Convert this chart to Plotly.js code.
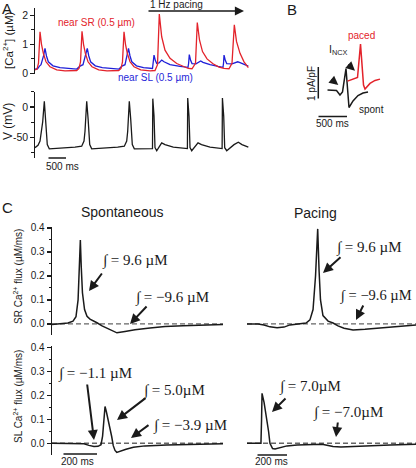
<!DOCTYPE html>
<html><head><meta charset="utf-8">
<script src="https://cdn.plot.ly/plotly-3.0.1.min.js"></script>
<style>html,body{margin:0;padding:0;background:#fff;}#chart{width:416px;height:468px;}</style>
</head><body><div id="chart"></div>
<script>
// ---------- Panel A : local Ca and membrane potential (time in ms) ----------
const caSRTime = [0,53,92,132,171,218,289,395,571,789,1097,1157,1197,1236,1276,1323,1394,1499,1675,1894,2201,2262,2301,2341,2380,2427,2499,2604,2780,3025,3156,3222,3269,3332,3419,3551,3727,3900,4032,4129,4221,4268,4326,4405,4524,4681,4839,4971,5102,5181,5242,5299,5392,5497,5610];
const caNearSR = [0.12,0.15,0.35,1.43,1.0,0.7,0.4,0.23,0.12,0.09,0.1,0.17,0.4,1.45,1.0,0.7,0.4,0.23,0.12,0.09,0.1,0.17,0.4,1.43,1.0,0.7,0.4,0.23,0.12,0.09,0.1,0.3,2.04,1.26,0.8,0.52,0.34,0.23,0.17,0.16,0.35,1.75,1.15,0.75,0.5,0.33,0.22,0.17,0.16,0.35,1.67,1.1,0.69,0.4,0.2];
const caSLTime = [0,66,118,158,224,263,302,350,473,658,1097,1184,1262,1328,1375,1415,1462,1586,1770,2209,2288,2367,2420,2459,2499,2546,2669,2854,3090,3109,3130,3164,3201,3261,3332,3393,3551,3814,4024,4040,4058,4092,4129,4234,4358,4418,4603,4813,4944,4958,4971,5005,5042,5181,5331,5392,5497,5610];
const caNearSL = [0.15,0.16,0.25,0.3,0.6,0.86,0.6,0.4,0.26,0.2,0.15,0.25,0.3,0.6,0.86,0.6,0.4,0.26,0.2,0.15,0.25,0.3,0.6,0.86,0.6,0.4,0.26,0.2,0.17,0.35,0.63,0.45,0.34,0.36,0.46,0.4,0.3,0.24,0.21,0.35,0.65,0.45,0.34,0.33,0.43,0.38,0.3,0.24,0.21,0.35,0.63,0.45,0.34,0.33,0.4,0.37,0.3,0.25];
const vTime = [0,79,132,203,245,281,323,376,744,1052,1228,1289,1315,1360,1397,1439,1491,1859,2175,2349,2412,2438,2480,2517,2559,2612,2972,3090,3098,3130,3156,3201,3261,3332,3419,3637,4008,4016,4050,4077,4121,4195,4287,4379,4603,4921,4929,4963,4989,5042,5129,5234,5347,5444,5610];
const vMembrane = [-67,-63,-56,-24,9.4,-20,-62,-69,-68,-66,-64.5,-56,-40,9.4,-20,-62,-69,-68,-66,-64.5,-56,-40,9.4,-20,-62,-69,-68.5,-68.5,13.7,-15,-67,-72,-66,-59,-62,-66,-68.5,14.8,-15,-67,-72,-66,-59,-62,-66,-68.5,14.8,-15,-67,-72,-67,-62,-58,-62,-66];
const caTickVals = [0,1,2];
const caTickText = ['0','1','2'];
const caMinorVals = [0.5,1.5];
const vTickVals = [0,-50];
const vTickText = ['0','-50'];
const vMinorVals = [25,-25,-75];

// ---------- Panel B : I_NCX (ms, pA/pF) ----------
const ncxSpontTime = [0,150,208,250,308,358,425,508,592,675];
const ncxSpont = [0,-0.015,-0.15,-0.06,0.65,-0.53,-0.33,-0.17,-0.09,-0.06];
const ncxPacedTime = [333,500,550,600,625,708,792,875];
const ncxPaced = [0.27,0.38,1.39,0.15,0.03,0.2,0.29,0.33];

// ---------- Panel C : Ca fluxes (ms, uM/ms) ----------
const spontSRTime = [0,46,91,120,137,149,156,162,167,174,186,200,217,240,257,286,320,349,371,417,474,560,646,749,846,977];
const spontSRFlux = [-0.002,0,0.004,0.012,0.03,0.1,0.22,0.35,0.24,0.13,0.06,0.032,0.02,0.012,0.005,-0.008,-0.02,-0.032,-0.037,-0.031,-0.024,-0.017,-0.011,-0.007,-0.004,-0.002];
const spontSLTime = [0,149,183,211,240,263,280,289,297,303,311,322,331,341,350,360,370,389,423,465,531,655,789,941,977];
const spontSLFlux = [0,0,-0.002,-0.009,-0.014,-0.013,-0.006,0.03,0.12,0.153,0.13,0.097,0.06,0.028,-0.01,-0.03,-0.038,-0.033,-0.025,-0.017,-0.011,-0.007,-0.004,-0.003,-0.002];
const pacedSRTime = [0,71,110,148,194,239,277,342,381,406,426,442,456,465,474,490,523,555,587,626,684,761,839,923,1013,1090];
const pacedSRFlux = [0,0,-0.004,-0.012,-0.016,-0.013,-0.004,0,0.004,0.017,0.06,0.2,0.396,0.22,0.1,0.035,0.012,0.004,-0.008,-0.018,-0.025,-0.022,-0.018,-0.012,-0.007,-0.004];
const pacedSLTime = [0,71,90,94,97,110,126,139,148,165,181,213,258,323,406,484,516,555,606,697,794,923,1090];
const pacedSLFlux = [0,0,0,0.1,0.208,0.17,0.11,0.05,0,-0.022,-0.024,-0.018,-0.011,-0.007,-0.004,-0.004,-0.008,-0.014,-0.016,-0.013,-0.01,-0.007,-0.004];
const fluxTickVals = [0,0.1,0.2,0.3,0.4];
const fluxTickText = ['0.0','0.1','0.2','0.3','0.4'];
const fluxMinorVals = [0.05,0.15,0.25,0.35];

// ---------- helpers (pixel -> paper) ----------
const W = 416, H = 468;
const X = p => p / W;
const Y = p => 1 - p / H;
const RED = '#e3232b', BLUE = '#1f1fd8', INK = '#1a1a1a';
const SANS = 'Liberation Sans, Arial, sans-serif';
const SERIF = 'Liberation Serif, Times New Roman, serif';
const caRange = [-0.02, 2.25], vRange = [-83.5, 25.5];
const srRange = [-0.046, 0.406], slRange = [-0.049, 0.405];

const dashed = (t, xa, ya) => ({x: [t[0], t[t.length-1]], y: [0, 0], xaxis: xa, yaxis: ya, mode: 'lines', line: {color: '#666', width: 1.3, dash: '5px,3px'}});
const traces = [
  {x: caSLTime, y: caNearSL, xaxis: 'x', yaxis: 'y', mode: 'lines', line: {color: BLUE, width: 1.3}},
  {x: caSRTime, y: caNearSR, xaxis: 'x', yaxis: 'y', mode: 'lines', line: {color: RED, width: 1.3}},
  {x: vTime, y: vMembrane, xaxis: 'x2', yaxis: 'y2', mode: 'lines', line: {color: INK, width: 1.3}},
  {x: ncxSpontTime, y: ncxSpont, xaxis: 'x3', yaxis: 'y3', mode: 'lines', line: {color: INK, width: 1.5}},
  {x: ncxPacedTime, y: ncxPaced, xaxis: 'x3', yaxis: 'y3', mode: 'lines', line: {color: RED, width: 1.5}},
  dashed(spontSRTime, 'x4', 'y4'),
  {x: spontSRTime, y: spontSRFlux, xaxis: 'x4', yaxis: 'y4', mode: 'lines', line: {color: INK, width: 1.5}},
  dashed(spontSLTime, 'x4', 'y5'),
  {x: spontSLTime, y: spontSLFlux, xaxis: 'x4', yaxis: 'y5', mode: 'lines', line: {color: INK, width: 1.5}},
  dashed(pacedSRTime, 'x6', 'y6'),
  {x: pacedSRTime, y: pacedSRFlux, xaxis: 'x6', yaxis: 'y6', mode: 'lines', line: {color: INK, width: 1.5}},
  dashed(pacedSLTime, 'x6', 'y7'),
  {x: pacedSLTime, y: pacedSLFlux, xaxis: 'x6', yaxis: 'y7', mode: 'lines', line: {color: INK, width: 1.5}},
  // empty traces that carry the minor-tick axes
  {x: [], y: [], xaxis: 'x', yaxis: 'y8', mode: 'lines'},
  {x: [], y: [], xaxis: 'x2', yaxis: 'y9', mode: 'lines'},
  {x: [], y: [], xaxis: 'x4', yaxis: 'y10', mode: 'lines'},
  {x: [], y: [], xaxis: 'x4', yaxis: 'y11', mode: 'lines'}
];

const hiddenX = (dom, rng, anchor) => ({domain: dom, range: rng, visible: false, anchor: anchor});
function yAx(extra) {
  return Object.assign({showline: true, linecolor: INK, linewidth: 1.3, ticks: 'outside', ticklen: 4, tickwidth: 1.2, tickcolor: INK,
    showticklabels: true, tickmode: 'array', showgrid: false, zeroline: false, automargin: false,
    tickfont: {family: SANS, size: 10, color: INK}}, extra);
}
const minorAx = (over, anchor, rng, vals, len) => ({overlaying: over, anchor: anchor, side: 'left', range: rng, tickmode: 'array', tickvals: vals,
  ticks: 'outside', ticklen: len, tickwidth: 1, tickcolor: INK, showticklabels: false, showline: false, showgrid: false, zeroline: false, automargin: false});

const layout = {
  width: W, height: H, margin: {l: 0, r: 0, t: 0, b: 0}, showlegend: false,
  paper_bgcolor: '#fff', plot_bgcolor: 'rgba(0,0,0,0)',
  xaxis: hiddenX([X(35), X(249)], [0, 5628], 'y'),
  yaxis: yAx({domain: [Y(74), Y(8)], range: caRange, anchor: 'x', tickvals: caTickVals, ticktext: caTickText, ticklen: 3.5,
    tickfont: {family: SANS, size: 10.5, color: INK}}),
  xaxis2: hiddenX([X(35), X(249)], [0, 5628], 'y2'),
  yaxis2: yAx({domain: [Y(157.7), Y(91.5)], range: vRange, anchor: 'x2', tickvals: vTickVals, ticktext: vTickText, ticklen: 3.5,
    tickfont: {family: SANS, size: 10.5, color: INK}}),
  xaxis3: hiddenX([X(310), X(392)], [-292, 1075], 'y3'),
  yaxis3: {domain: [Y(120), Y(30)], range: [-0.909, 1.818], visible: false, anchor: 'x3'},
  xaxis4: hiddenX([X(52), X(223)], [0, 977], 'y4'),
  yaxis4: yAx({domain: [Y(335), Y(226.5)], range: srRange, anchor: 'x4', tickvals: fluxTickVals, ticktext: fluxTickText}),
  yaxis5: yAx({domain: [Y(455), Y(346)], range: slRange, anchor: 'x4', tickvals: fluxTickVals, ticktext: fluxTickText}),
  xaxis6: hiddenX([X(247), X(416)], [0, 1090], 'y6'),
  yaxis6: {domain: [Y(335), Y(226.5)], range: srRange, visible: false, anchor: 'x6'},
  yaxis7: {domain: [Y(455), Y(346)], range: slRange, visible: false, anchor: 'x6'},
  yaxis8: minorAx('y', 'x', caRange, caMinorVals, 3.5),
  yaxis9: minorAx('y2', 'x2', vRange, vMinorVals, 3.5),
  yaxis10: minorAx('y4', 'x4', srRange, fluxMinorVals, 2.5),
  yaxis11: minorAx('y5', 'x4', slRange, fluxMinorVals, 2.5),
  annotations: []
};

const A = layout.annotations;
function txt(t, px, py, size, opts) {
  A.push(Object.assign({text: t, x: X(px), y: Y(py), xref: 'paper', yref: 'paper', showarrow: false,
    xanchor: 'center', yanchor: 'middle', font: {family: SANS, size: size, color: INK}}, opts || {}));
}
function arrow(tx, ty, hx, hy, w) {
  A.push({text: '', x: X(hx), y: Y(hy), xref: 'paper', yref: 'paper', showarrow: true,
    ax: tx - hx, ay: ty - hy, arrowhead: 2, arrowsize: 1, arrowwidth: w || 2, arrowcolor: INK, standoff: 0, startstandoff: 0});
}
function bar(x0, y0, x1, y1) {   // plain scale bar (line without head)
  A.push({text: '', x: X(x1), y: Y(y1), xref: 'paper', yref: 'paper', showarrow: true,
    ax: x0 - x1, ay: y0 - y1, arrowhead: 0, arrowwidth: 1.5, arrowcolor: INK, standoff: 0, startstandoff: 0});
}
// scale bars: A 500 ms, B 500 ms / 1 pA/pF, C 200 ms
bar(47, 158, 66, 158);
bar(317, 116.5, 347, 116.5);
bar(318.3, 100, 318.3, 67);
bar(62, 454, 97, 454);
bar(256, 455, 287, 455);
// panel letters
txt('A', 7, 8, 15); txt('B', 292, 9, 15); txt('C', 7, 207, 15);
// panel A
txt('[Ca<sup>2+</sup>] (µM)', 8, 40, 11.5, {textangle: -90});
txt('V (mV)', 8, 122, 12, {textangle: -90});
txt('near SR (0.5 µm)', 96.5, 22, 10, {font: {family: SANS, size: 10, color: RED}});
txt('near SL (0.5 µm)', 155, 78, 10, {font: {family: SANS, size: 10, color: BLUE}});
txt('1 Hz pacing', 148, 5, 10, {xanchor: 'left'});
A.push({text: '', x: X(244), y: Y(11), xref: 'paper', yref: 'paper', showarrow: true, ax: -97, ay: 0,
  arrowhead: 2, arrowsize: 1.4, arrowwidth: 1.3, arrowcolor: INK, standoff: 0, startstandoff: 0});
txt('500 ms', 44, 166, 10, {xanchor: 'left'});
// panel B
txt('paced', 361.5, 36, 10, {font: {family: SANS, size: 10, color: RED}});
txt('I<sub>NCX</sub>', 338, 50, 10.5);
txt('spont', 371, 109, 10);
txt('1 pA/pF', 311, 84, 10, {textangle: -90});
txt('500 ms', 332, 124, 10);
arrow(346.7, 63.3, 355, 70.7, 1.8);
arrow(330, 78.3, 338.3, 85, 1.8);
// panel C
txt('Spontaneous', 122, 212, 14);
txt('Pacing', 315, 213, 14);
txt('SR Ca<sup>2+</sup> flux (µM/ms)', 18, 277, 10, {textangle: -90});
txt('SL Ca<sup>2+</sup> flux (µM/ms)', 18, 397, 10, {textangle: -90});
txt('200 ms', 77, 461.5, 10);
txt('200 ms', 271, 461.5, 10);
const sf = {family: SERIF, size: 15, color: INK};
txt('∫ = 9.6 µM', 134.5, 260, 15, {font: sf});
txt('∫ = −9.6 µM', 171.5, 297, 15, {font: sf});
txt('∫ = 9.6 µM', 368.5, 247, 15, {font: sf});
txt('∫ = −9.6 µM', 414, 295, 15, {font: {family: SERIF, size: 14.5, color: INK}, xanchor: 'right'});
txt('∫ = −1.1 µM', 94.5, 373, 15, {font: sf});
txt('∫ = 5.0µM', 173.5, 390, 15, {font: sf});
txt('∫ = −3.9 µM', 190, 425, 15, {font: sf});
txt('∫ = 7.0µM', 310, 386, 15, {font: sf});
txt('∫ = −7.0µM', 348, 412, 15, {font: sf});
arrow(103, 272, 89, 291);
arrow(148, 305, 130, 324);
arrow(342, 256, 323, 273);
arrow(364, 304, 356, 320);
arrow(87, 383, 94, 440);
arrow(147, 397, 117, 420);
arrow(150, 424, 131, 438);
arrow(287, 397, 272, 412);
arrow(338, 421, 336, 437);

Plotly.newPlot('chart', traces, layout, {staticPlot: true, displayModeBar: false});
</script></body></html>
